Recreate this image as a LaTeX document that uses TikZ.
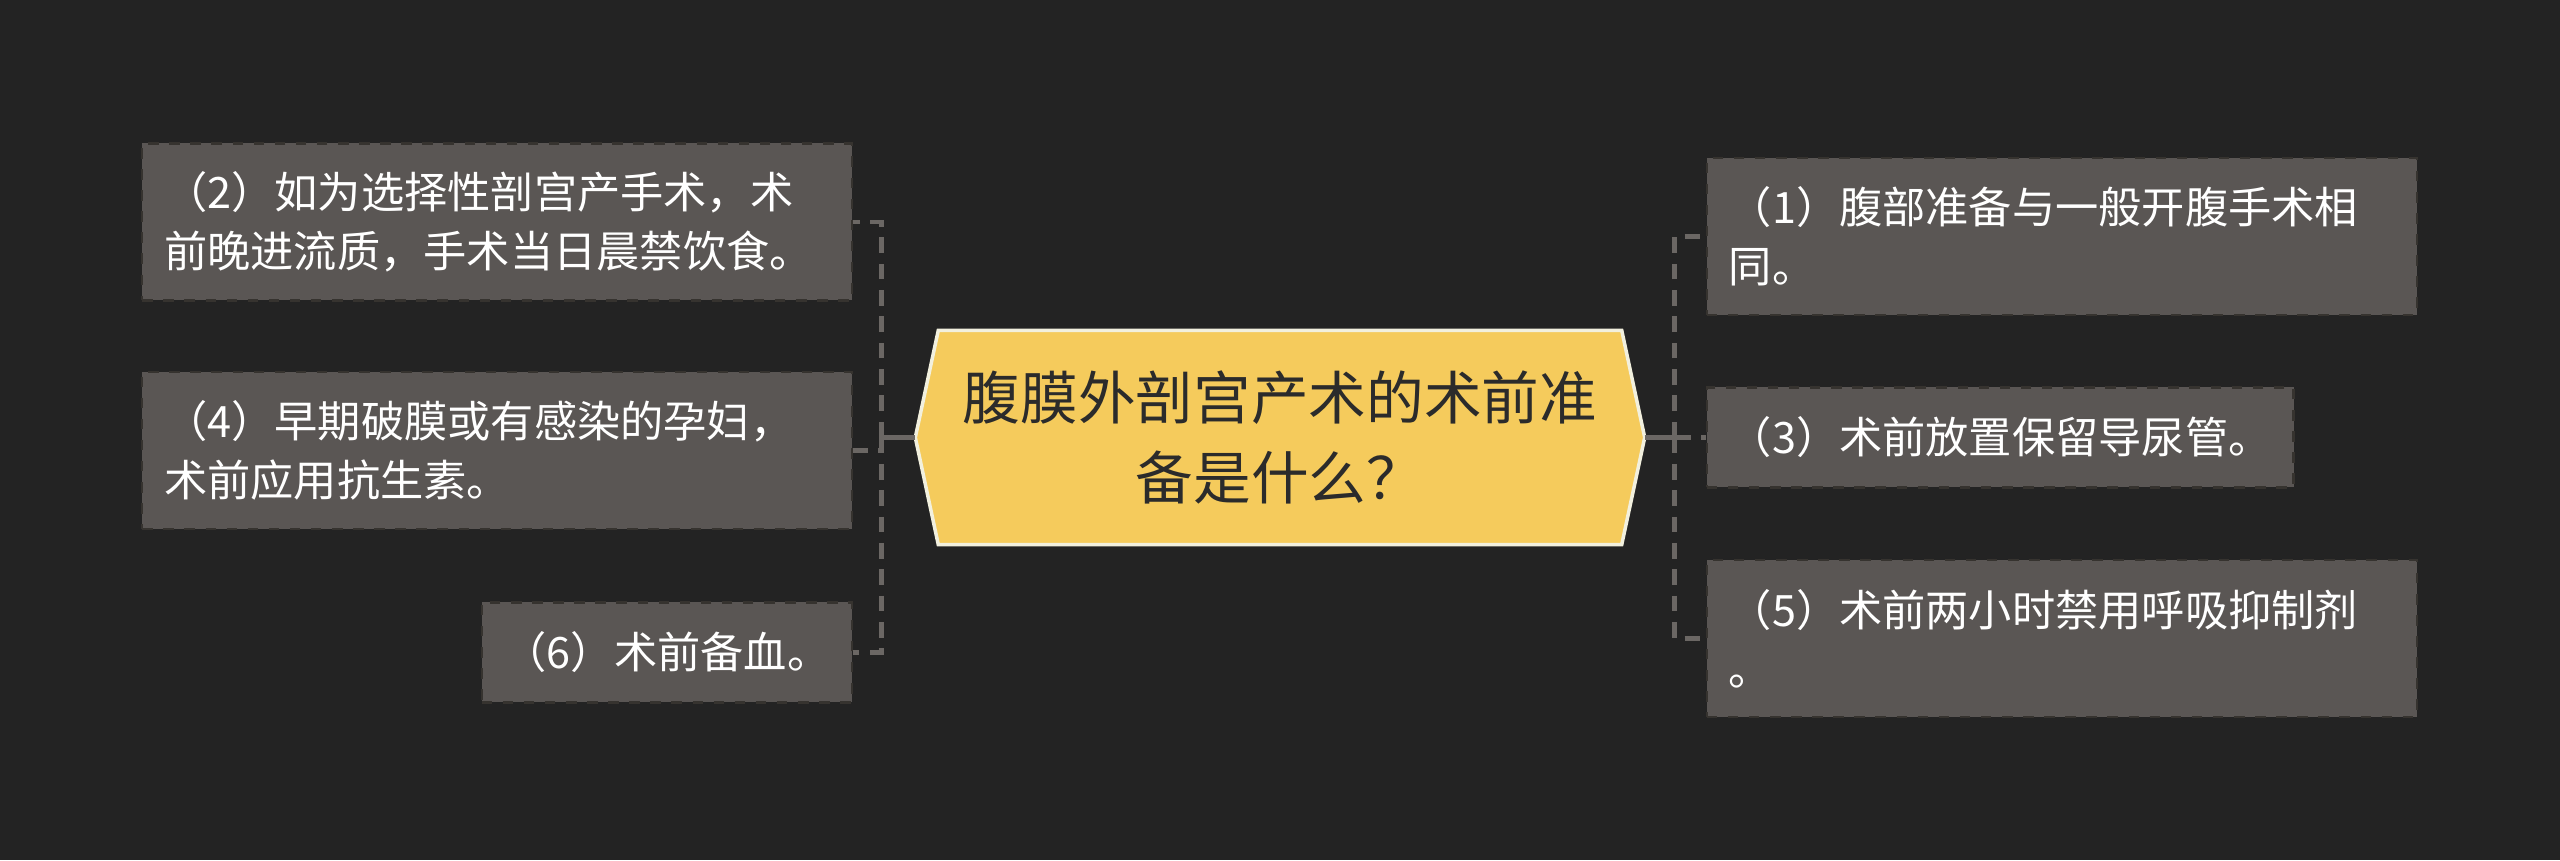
\documentclass[tikz,border=0pt]{standalone}
\usepackage{fontspec}
\setmainfont{Noto Sans CJK SC}
\usetikzlibrary{positioning,backgrounds}
\definecolor{bgdark}{HTML}{232323}
\definecolor{hubfill}{HTML}{F5CB5C}
\definecolor{hubedge}{HTML}{F2F0DE}
\definecolor{hubtext}{HTML}{2B2B2B}
\definecolor{leaffill}{HTML}{5A5654}
\definecolor{leafedge}{HTML}{36332F}
\definecolor{linkgray}{HTML}{6B6764}
\begin{document}
\begin{tikzpicture}[
  hub/.style={rectangle, minimum width=7.28cm, minimum height=2.13cm, align=center,
    text=hubtext, font=\fontsize{16.4}{22.8}\selectfont},
  leaf/.style={rectangle, draw=leafedge, dashed, line width=0.6pt, fill=leaffill, text=white,
    inner xsep=0.22cm, font=\fontsize{12.3}{16.8}\selectfont},
  wide/.style={leaf, align=left, text width=6.66cm, minimum height=1.57cm},
  short/.style={leaf, align=center, minimum height=1.0cm},
  link/.style={draw=linkgray, line width=1.3pt},
  dashlink/.style={link, dash pattern=on 4.5pt off 3pt}
]
% Canvas
\useasboundingbox (0,0) rectangle (25.6,8.6);

% Central topic
\node[hub] (hub) at (12.8,4.225) {腹膜外剖宫产术的术前准\\备是什么？};

% Left branch
\node[wide, left=0.62cm of hub, yshift=2.155cm] (q2) {（2）如为选择性剖宫产手术，术\\前晚进流质，手术当日晨禁饮食。};
\node[wide, left=0.62cm of hub, yshift=-0.13cm] (q4) {（4）早期破膜或有感染的孕妇，\\术前应用抗生素。};
\node[short, left=0.62cm of hub, yshift=-2.15cm, minimum width=3.67cm] (q6) {（6）术前备血。};

% Right branch
\node[wide, right=0.61cm of hub, yshift=2.01cm] (q1) {（1）腹部准备与一般开腹手术相\\同。};
\node[short, right=0.61cm of hub, minimum width=5.84cm] (q3) {（3）术前放置保留导尿管。};
\node[wide, right=0.61cm of hub, yshift=-2.01cm] (q5) {（5）术前两小时禁用呼吸抑制剂\\。};

% Background and hub outline
\begin{scope}[on background layer]
\fill[bgdark] (0,0) rectangle (25.6,8.6);
\filldraw[fill=hubfill, draw=hubedge, line width=1pt, line join=miter]
  (hub.west) -- ([xshift=0.23cm]hub.north west) -- ([xshift=-0.23cm]hub.north east)
  -- (hub.east) -- ([xshift=-0.23cm]hub.south east) -- ([xshift=0.23cm]hub.south west) -- cycle;
\end{scope}

% Connections
\draw[link] (hub.west) -- ++(-0.34,0) coordinate (lj);
\draw[link] (hub.east) -- ++(0.30,0) coordinate (rj);
\foreach \q in {q2,q4,q6} \draw[dashlink] (lj) |- (\q.east);
\foreach \q in {q1,q3,q5} \draw[dashlink] (rj) |- (\q.west);
\end{tikzpicture}
\end{document}
